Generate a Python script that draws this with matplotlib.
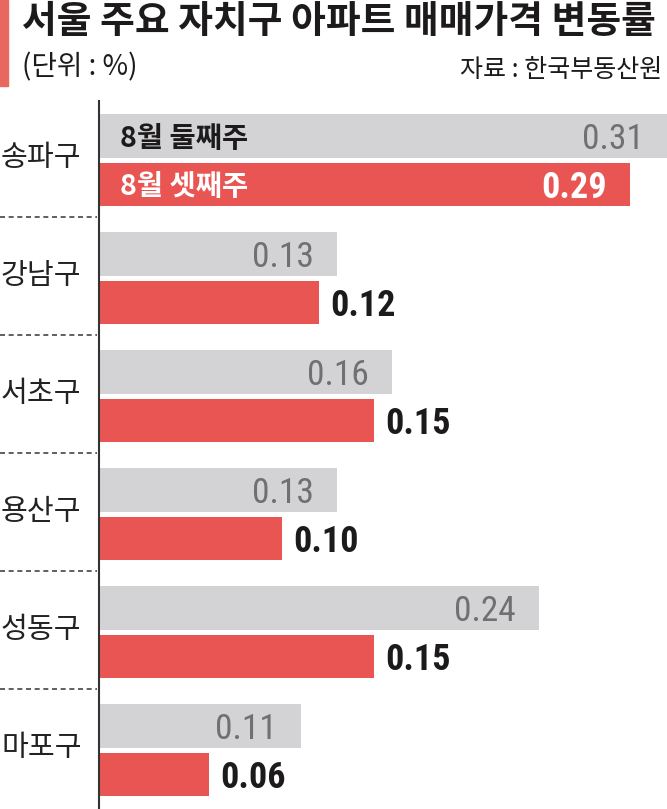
import matplotlib
matplotlib.use("Agg")
import matplotlib.pyplot as plt
from matplotlib.patches import Rectangle
import matplotlib.transforms as mtrans
from matplotlib import font_manager as fm

plt.rcParams['font.family'] = ['Noto Sans CJK KR', 'DejaVu Sans']

# ---- data ----
districts = ['송파구', '강남구', '서초구', '용산구', '성동구', '마포구']
week2 = [0.31, 0.13, 0.16, 0.13, 0.24, 0.11]
week3 = [0.29, 0.12, 0.15, 0.10, 0.15, 0.06]
series_names = ['8월 둘째주', '8월 셋째주']
title = '서울 주요 자치구 아파트 매매가격 변동률'
unit = '(단위 : %)'
source = '자료 : 한국부동산원'

GRAY = '#d3d3d5'
RED = '#e95552'
GRAYTXT = '#707070'
DARK = '#1c1a1a'

names = {f.name for f in fm.fontManager.ttflist}
NUMFAM = ['Liberation Sans', 'DejaVu Sans']
for pref in ['Roboto Condensed', 'Archivo Narrow', 'PT Sans Narrow', 'Liberation Sans Narrow']:
    if pref in names:
        NUMFAM = [pref, 'DejaVu Sans']
        break

W, H = 667, 809
fig = plt.figure(figsize=(W / 100, H / 100), dpi=100)
fig.patch.set_facecolor('white')

left_px, top_px, pitch = 99, 101, 118
n = len(districts)
ax = fig.add_axes([left_px / W, (H - top_px - pitch * n) / H,
                   (W - left_px) / W, pitch * n / H])
ax.set_xlim(0, 0.31)
ax.set_ylim(n, 0)
for s in ['top', 'right', 'bottom']:
    ax.spines[s].set_visible(False)
ax.spines['left'].set_color('#333333')
ax.spines['left'].set_linewidth(1.5)
ax.set_xticks([])
ax.set_yticks([])

ys = list(range(n))
g_c = [y + 0.297 for y in ys]
r_c = [y + 0.704 for y in ys]
ax.barh(g_c, week2, height=0.37, color=GRAY, zorder=2)
ax.barh(r_c, week3, height=0.365, color=RED, zorder=2)

for i in range(n):
    ax.annotate(f'{week2[i]:.2f}', (week2[i], g_c[i]), xytext=(-17, 0),
                textcoords='offset points', ha='right', va='center_baseline',
                fontsize=25.5, color=GRAYTXT, family=NUMFAM, weight='normal')
    if week3[i] > 0.2:
        ax.annotate(f'{week3[i]:.2f}', (week3[i], r_c[i]), xytext=(-17, 0),
                    textcoords='offset points', ha='right', va='center_baseline',
                    fontsize=26, color='white', weight='bold', family=NUMFAM)
    else:
        ax.annotate(f'{week3[i]:.2f}', (week3[i], r_c[i]), xytext=(8, 0),
                    textcoords='offset points', ha='left', va='center_baseline',
                    fontsize=26, color=DARK, weight='bold', family=NUMFAM)

# series names inside first group
ax.annotate(series_names[0], (0, g_c[0]), xytext=(15, 0), textcoords='offset points',
            ha='left', va='center_baseline', fontsize=20.5, color=DARK, weight='bold')
ax.annotate(series_names[1], (0, r_c[0]), xytext=(15, 0), textcoords='offset points',
            ha='left', va='center_baseline', fontsize=20.5, color='white', weight='bold')

# category labels and dashed separators
ax_w_px = W - left_px
tr = mtrans.blended_transform_factory(ax.transAxes, ax.transData)
for i in range(n):
    ax.text(-(left_px - 1) / ax_w_px, ys[i] + 0.48, districts[i], transform=tr,
            ha='left', va='center', fontsize=21, color='#222222', clip_on=False)
    if i < n - 1:
        ax.plot([-left_px / ax_w_px, -2 / ax_w_px], [i + 0.985, i + 0.985],
                transform=tr, color='#444444', lw=1.2, ls=(0, (3, 2.2)),
                clip_on=False)

# header
fig.patches.append(Rectangle((0, 1 - 86 / H), 8 / W, 86 / H, transform=fig.transFigure,
                             color='#e8675f', zorder=5))
fig.text(22 / W, 1 - 22 / H, title, ha='left', va='center', fontsize=27.2,
         weight='heavy', color=DARK)
fig.text(22 / W, 1 - 67 / H, unit, ha='left', va='center', fontsize=20, color=DARK)
fig.text(662 / W, 1 - 70 / H, source, ha='right', va='center', fontsize=18, color=DARK)

fig.savefig('out.png', dpi=100)
